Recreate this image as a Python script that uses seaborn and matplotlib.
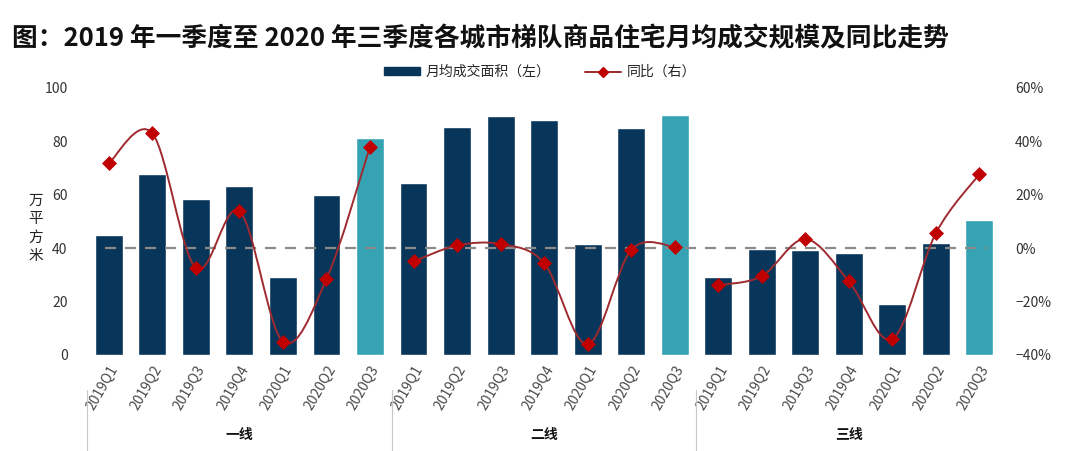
import numpy as np
import pandas as pd
import matplotlib
matplotlib.use("Agg")
import matplotlib.pyplot as plt
from matplotlib.path import Path
from matplotlib.patches import PathPatch, Patch
from matplotlib.lines import Line2D
from matplotlib.ticker import PercentFormatter
import seaborn as sns

sns.set_style("white")
plt.rcParams['font.family'] = ['Noto Sans CJK SC', 'DejaVu Sans']

# Data
tiers = ["一线", "二线", "三线"]
quarters = ["2019Q1", "2019Q2", "2019Q3", "2019Q4", "2020Q1", "2020Q2", "2020Q3"]

area_tier1 = [45, 67.8, 58.4, 63.3, 29.2, 60, 81.3]
area_tier2 = [64.4, 85.4, 89.5, 88, 41.6, 85, 90]
area_tier3 = [29.2, 39.7, 39.3, 38.2, 19.1, 42, 50.6]

yoy_tier1 = [31.8, 43, -7.5, 13.9, -35, -11.6, 38]
yoy_tier2 = [-5, 1, 1.5, -5.6, -36, -0.7, 0.5]
yoy_tier3 = [-13.9, -10.5, 3.4, -12.4, -34, 5.6, 27.7]

navy = "#08355a"
teal = "#36a3b4"
line_red = "#9e2a2f"
marker_red = "#c00000"

rows = []
for t, areas, yoys in zip(tiers, [area_tier1, area_tier2, area_tier3], [yoy_tier1, yoy_tier2, yoy_tier3]):
    for q, a, y in zip(quarters, areas, yoys):
        rows.append({"tier": t, "quarter": q, "area": a, "yoy": y / 100,
                     "latest": q == quarters[-1]})
df = pd.DataFrame(rows)
df["pos"] = np.arange(len(df))


def smooth_path(xs, ys):
    # Excel-style smoothed line: Catmull-Rom segments as cubic Bezier curves
    pts = np.column_stack([xs, ys]).astype(float)
    verts = [pts[0]]
    codes = [Path.MOVETO]
    n = len(pts)
    for i in range(n - 1):
        p0 = pts[i - 1] if i > 0 else pts[i]
        p1 = pts[i]
        p2 = pts[i + 1]
        p3 = pts[i + 2] if i + 2 < n else pts[i + 1]
        c1 = p1 + (p2 - p0) / 6
        c2 = p2 - (p3 - p1) / 6
        verts += [c1, c2, p2]
        codes += [Path.CURVE4] * 3
    return Path(verts, codes)


fig = plt.figure(figsize=(10.8, 4.51), dpi=100)
ax = fig.add_axes([0.0806, 0.213, 0.8464, 0.592])

sns.barplot(data=df, x="pos", y="area", hue="latest", palette={False: navy, True: teal},
            dodge=False, width=0.64, legend=False, ax=ax, saturation=1)
ax.set_xlim(-0.5, len(df) - 0.5)
ax.set_ylim(0, 100)
ax.set_yticks(range(0, 101, 20))
ax.set_xticks(df["pos"])
ax.set_xticklabels(df["quarter"], rotation=60, ha="right", rotation_mode="anchor",
                   fontsize=10, color="#4a4a4a")
ax.tick_params(axis="x", length=0, pad=6)
ax.tick_params(axis="y", length=0, labelsize=10, labelcolor="#333333", pad=14)
ax.set_xlabel("")
ax.set_ylabel("")
for s in ax.spines.values():
    s.set_visible(False)

ax2 = ax.twinx()
ax2.set_ylim(-0.4, 0.6)
ax2.set_yticks(np.arange(-0.4, 0.61, 0.2))
ax2.yaxis.set_major_formatter(PercentFormatter(1.0, decimals=0))
ax2.tick_params(axis="y", length=0, labelsize=10, labelcolor="#333333", pad=10)
for s in ax2.spines.values():
    s.set_visible(False)

ax2.axhline(0, xmin=0.02, xmax=0.985, color="#8a8a8a", lw=1.6, ls=(0, (5, 4)), zorder=1)

for t in tiers:
    sub = df[df["tier"] == t]
    ax2.add_patch(PathPatch(smooth_path(sub["pos"], sub["yoy"]), facecolor="none",
                            edgecolor=line_red, lw=1.4, zorder=3))
sns.scatterplot(data=df, x="pos", y="yoy", marker="D", color=marker_red, s=50,
                edgecolor=marker_red, ax=ax2, zorder=4, legend=False)
ax2.set_xlabel("")
ax2.set_ylabel("")
ax2.set_xlim(-0.5, len(df) - 0.5)

# group separators and tier labels under the axis
xt = ax.get_xaxis_transform()
for b in [-0.5, 6.5, 13.5]:
    ax.plot([b, b], [-0.13, -0.37], transform=xt, color="#c8c8c8", lw=0.8, clip_on=False)
for i, t in enumerate(tiers):
    ax.text(i * 7 + 3, -0.30, t, transform=xt, ha="center", va="center",
            fontsize=10, color="#111111", fontweight="bold")

fig.text(0.011, 0.915, "图：2019 年一季度至 2020 年三季度各城市梯队商品住宅月均成交规模及同比走势",
         fontsize=18.5, fontweight="bold", ha="left", va="center", color="#111111")
fig.text(0.033, 0.494, "万\n平\n方\n米", fontsize=10.5, ha="center", va="center",
         linespacing=1.4, color="#222222")

handles = [Patch(facecolor=navy, edgecolor=navy),
           Line2D([], [], color=line_red, lw=1.4, marker="D", markersize=5,
                  markerfacecolor=marker_red, markeredgecolor=marker_red)]
fig.legend(handles, ["月均成交面积（左）", "同比（右）"], loc="center",
           bbox_to_anchor=(0.5, 1 - 72 / 451), ncol=2, frameon=False, fontsize=10,
           handlelength=2.6, handleheight=0.5, columnspacing=2.5, handletextpad=0.4)

fig.savefig("out.png", dpi=100)
